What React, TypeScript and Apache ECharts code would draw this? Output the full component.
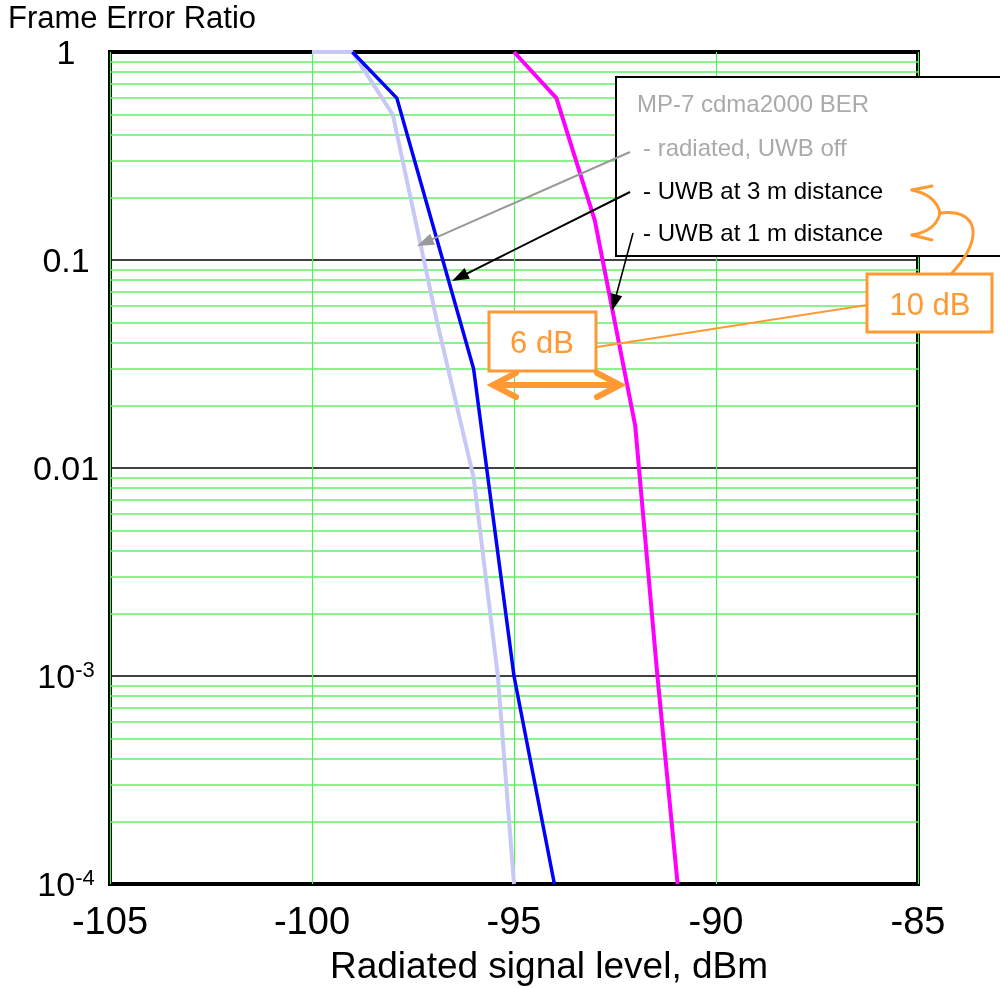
import React, { useEffect, useRef } from 'react';
import * as echarts from 'echarts';

// ---- data ----
const xTicks = [-105, -100, -95, -90, -85];
const uwbOff: [number, number][] = [
  [-100, 1], [-99, 1], [-98, 0.5], [-96.9, 0.05], [-96, 0.009], [-95.4, 0.001], [-95, 0.0001],
];
const uwb3m: [number, number][] = [
  [-99, 1], [-97.9, 0.6], [-96, 0.03], [-95, 0.001], [-94, 0.0001],
];
const uwb1m: [number, number][] = [
  [-95, 1], [-93.95, 0.6], [-93, 0.155], [-92, 0.016], [-91.45, 0.001], [-90.95, 0.0001],
];
const decades = [0.0001, 0.001, 0.01, 0.1];
const minorMultipliers = [2, 3, 4, 5, 6, 7, 8, 9];
const legendLines = ['MP-7 cdma2000 BER', '- radiated, UWB off', '- UWB at 3 m distance', '- UWB at 1 m distance'];
const yTickLabels: Record<string, string> = { '0': '1', '-1': '0.1', '-2': '0.01' };

const FONT = '"Liberation Sans", Arial, Helvetica, sans-serif';
const ORANGE = '#ff9933';

function txt(x: number, y: number, text: string, size: number, fill: string, align = 'left') {
  return {
    type: 'text', x, y, z: 101,
    style: {
      text, fontSize: size, fontFamily: FONT, fill,
      textAlign: align, align, textVerticalAlign: 'middle', verticalAlign: 'middle',
    },
  };
}

function arrow(x1: number, y1: number, x2: number, y2: number, color: string, lw: number, len: number, half: number) {
  const dx = x2 - x1, dy = y2 - y1;
  const L = Math.hypot(dx, dy);
  const ux = dx / L, uy = dy / L;
  const bx = x2 - ux * len, by = y2 - uy * len;
  return [
    { type: 'line', z: 102, shape: { x1, y1, x2: bx + ux * 2, y2: by + uy * 2 }, style: { stroke: color, lineWidth: lw } },
    {
      type: 'polygon', z: 102,
      shape: { points: [[x2, y2], [bx - uy * half, by + ux * half], [bx + uy * half, by - ux * half]] },
      style: { fill: color },
    },
  ];
}

export default function App() {
  const ref = useRef<HTMLDivElement>(null);
  useEffect(() => {
    if (!ref.current) return;
    const chart = echarts.init(ref.current, undefined, { renderer: 'svg' });
    const minorVals: number[] = [];
    decades.forEach((d) => minorMultipliers.forEach((m) => minorVals.push(d * m)));
    const xMin = xTicks[0];
    const xMax = xTicks[xTicks.length - 1];

    const graphic: any[] = [
      txt(8, 17, 'Frame Error Ratio', 31, '#000'),
      txt(549, 965, 'Radiated signal level, dBm', 37, '#000', 'center'),
      // legend box
      { type: 'rect', z: 100, shape: { x: 616, y: 77, width: 420, height: 179 }, style: { fill: '#fff', stroke: '#000', lineWidth: 2 } },
      txt(637, 103, legendLines[0], 24, '#aaaaaa'),
      txt(643, 147, legendLines[1], 24, '#aaaaaa'),
      txt(643, 190, legendLines[2], 24, '#000'),
      txt(643, 232, legendLines[3], 24, '#000'),
      ...arrow(630, 152, 417, 246, '#999999', 2, 17, 6),
      ...arrow(630, 192, 452, 281, '#000', 2, 17, 6),
      ...arrow(633, 233, 612, 311, '#000', 1.6, 17, 6),
      // orange connector
      { type: 'line', z: 103, shape: { x1: 597, y1: 347, x2: 867, y2: 305 }, style: { stroke: ORANGE, lineWidth: 2 } },
      // 6 dB box
      { type: 'rect', z: 104, shape: { x: 489, y: 312, width: 107, height: 59 }, style: { fill: '#fff', stroke: ORANGE, lineWidth: 3 } },
      { ...txt(542, 342, '6 dB', 31, ORANGE, 'center'), z: 105 },
      // double arrow
      { type: 'line', z: 104, shape: { x1: 495, y1: 385, x2: 617, y2: 385 }, style: { stroke: ORANGE, lineWidth: 6, lineCap: 'round' } },
      { type: 'polyline', z: 104, shape: { points: [[516, 373], [493, 385], [516, 397]] }, style: { stroke: ORANGE, lineWidth: 6, lineCap: 'round', fill: 'none' } },
      { type: 'polyline', z: 104, shape: { points: [[597, 373], [620, 385], [597, 397]] }, style: { stroke: ORANGE, lineWidth: 6, lineCap: 'round', fill: 'none' } },
      // 10 dB box
      { type: 'rect', z: 104, shape: { x: 867, y: 274, width: 125, height: 58 }, style: { fill: '#fff', stroke: ORANGE, lineWidth: 3 } },
      { ...txt(930, 304, '10 dB', 31, ORANGE, 'center'), z: 105 },
      // brace with two arrows
      { type: 'bezierCurve', z: 104, shape: { x1: 940, y1: 213, cpx1: 936, cpy1: 195, x2: 912, y2: 190 }, style: { stroke: ORANGE, lineWidth: 3, fill: 'none', lineCap: 'round' } },
      { type: 'line', z: 104, shape: { x1: 912, y1: 190, x2: 932, y2: 186 }, style: { stroke: ORANGE, lineWidth: 3, lineCap: 'round' } },
      { type: 'bezierCurve', z: 104, shape: { x1: 940, y1: 213, cpx1: 936, cpy1: 231, x2: 912, y2: 235 }, style: { stroke: ORANGE, lineWidth: 3, fill: 'none', lineCap: 'round' } },
      { type: 'line', z: 104, shape: { x1: 912, y1: 235, x2: 932, y2: 240 }, style: { stroke: ORANGE, lineWidth: 3, lineCap: 'round' } },
      { type: 'bezierCurve', z: 104, shape: { x1: 940, y1: 213, cpx1: 978, cpy1: 208, cpx2: 985, cpy2: 238, x2: 952, y2: 273 }, style: { stroke: ORANGE, lineWidth: 3, fill: 'none', lineCap: 'round' } },
    ];

    chart.setOption({
      animation: false,
      grid: { left: 110, right: 82, top: 52, bottom: 104, show: true, borderColor: '#000', borderWidth: 4, backgroundColor: 'transparent' },
      xAxis: {
        type: 'value', min: xMin, max: xMax, interval: 5,
        axisLine: { show: false }, axisTick: { show: false },
        splitLine: { show: true, lineStyle: { color: '#55f055', width: 1.2 } },
        axisLabel: { fontSize: 38, color: '#000', margin: 18, fontFamily: FONT },
      },
      yAxis: {
        type: 'log', logBase: 10, min: 0.0001, max: 1, interval: 1,
        axisLine: { show: false }, axisTick: { show: false },
        splitLine: { show: true, lineStyle: { color: '#000', width: 1.5 } },
        axisLabel: {
          align: 'center', margin: 44, color: '#000', fontSize: 34, fontFamily: FONT,
          formatter: (v: number) => {
            const e = Math.round(Math.log10(v));
            if (yTickLabels[String(e)] !== undefined) return yTickLabels[String(e)];
            return `{b|10}{s|${e}}`;
          },
          rich: {
            b: { fontSize: 34, fontFamily: FONT, color: '#000', lineHeight: 36 },
            s: { fontSize: 22, fontFamily: FONT, color: '#000', verticalAlign: 'top', lineHeight: 22 },
          },
        },
      },
      graphic: { elements: graphic },
      series: [
        {
          type: 'lines', coordinateSystem: 'cartesian2d', silent: true, z: 1,
          polyline: false,
          lineStyle: { color: '#66ee66', width: 1.5, opacity: 1, type: 'solid' },
          data: minorVals.map((v) => ({ coords: [[xMin, v], [xMax, v]] })),
        },
        { type: 'line', data: uwbOff, showSymbol: false, symbol: 'none', z: 3, lineStyle: { color: '#c8c8f6', width: 4 } },
        { type: 'line', data: uwb3m, showSymbol: false, symbol: 'none', z: 4, lineStyle: { color: '#0000ff', width: 3.5 } },
        { type: 'line', data: uwb1m, showSymbol: false, symbol: 'none', z: 4, lineStyle: { color: '#ff00ff', width: 4 } },
      ],
    });
    return () => chart.dispose();
  }, []);
  return <div ref={ref} style={{ position: 'fixed', left: 0, top: 0, width: 1000, height: 988 }} />;
}
